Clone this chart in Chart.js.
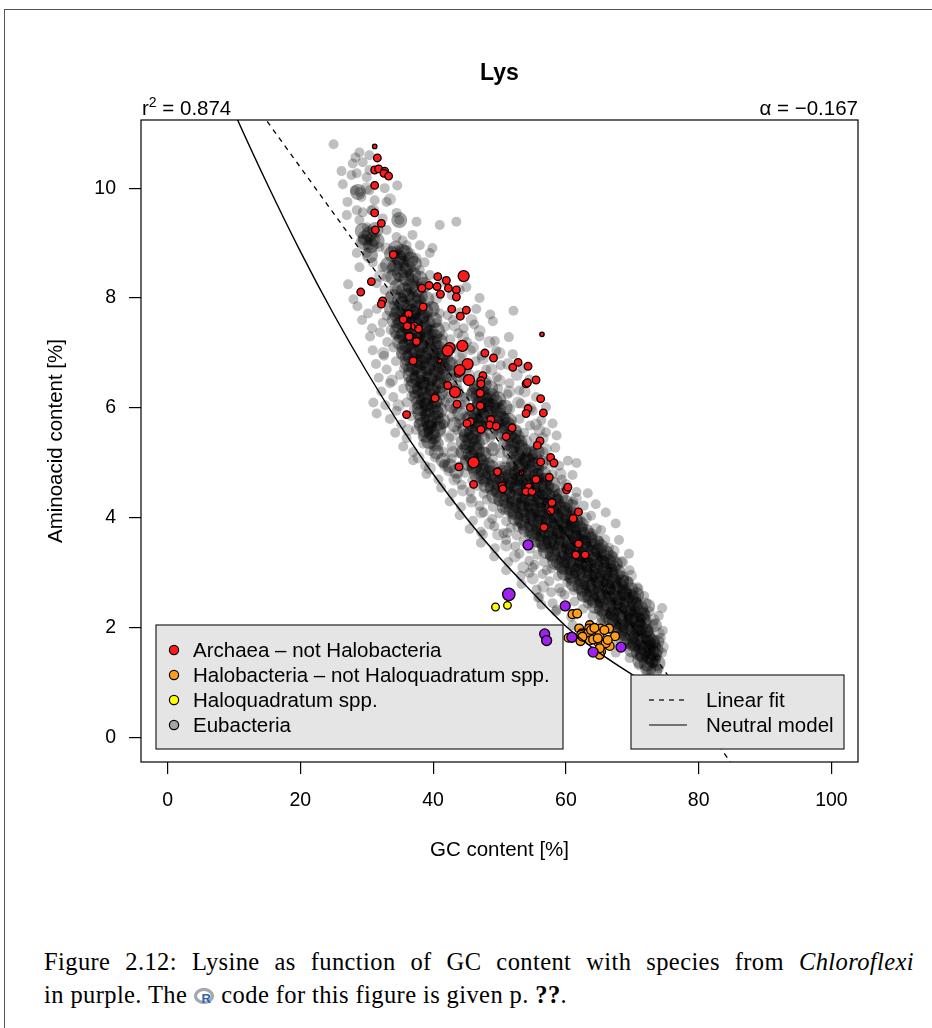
<!DOCTYPE html>
<html>
<head>
<meta charset="utf-8">
<title>Lys</title>
<script src="https://cdn.jsdelivr.net/npm/chart.js@4.4.1/dist/chart.umd.min.js"></script>
<style>
  html, body { margin: 0; padding: 0; background: #fff; }
  #page { position: relative; width: 932px; height: 1028px; overflow: hidden; }
  #frame { position: absolute; left: 4px; top: 9px; width: 960px; height: 1040px; border-left: 1px solid #555; border-top: 1px solid #555; }
  #lys { position: absolute; left: 0; top: 0; }
  .caption { position: absolute; left: 44px; width: 870px; font-family: 'Liberation Serif', 'Times New Roman', serif; font-size: 24.5px; letter-spacing: 0.4px; line-height: 28px; color: #000; white-space: nowrap; }
  #cap1 { top: 948px; text-align: justify; text-align-last: justify; }
  #cap2 { top: 981px; }
  .rlogo { vertical-align: -2px; }
</style>
</head>
<body>
<div id="page">
  <div id="frame"></div>
  <canvas id="lys" width="932" height="880"></canvas>
  <div class="caption" id="cap1">Figure 2.12: Lysine as function of GC content with species from <i>Chloroflexi</i></div>
  <div class="caption" id="cap2">in purple. The <svg class="rlogo" width="21" height="17" viewBox="0 0 21 17"><ellipse cx="10" cy="8" rx="8.5" ry="6.5" fill="none" stroke="#a3a8b0" stroke-width="3.2"/><text x="7.5" y="15" font-family="Liberation Sans, Arial, sans-serif" font-weight="bold" font-size="13" fill="#2a64b4">R</text></svg> code for this figure is given p. <b>??</b>.</div>
</div>
<script>
// axis ticks
const xTicks = [0, 20, 40, 60, 80, 100];
const yTicks = [0, 2, 4, 6, 8, 10];

// fit statistics shown above the plot
const rSquared = 0.874;
const fitSlope = -0.167;
const fitIntercept = 13.72;
const fitRange = [0, 100];

// neutral model: expected Lys content [%] for a GC content [%]
const neutralGC  = [5, 10, 15, 20, 25, 30, 35, 40, 45, 50, 55, 60, 65, 70, 75, 80, 85, 90, 95, 100];
const neutralLys = [12.80, 11.39, 10.08, 8.85, 7.71, 6.66, 5.69, 4.80, 4.00, 3.28, 2.64, 2.03, 1.55, 1.15, 0.79, 0.51, 0.28, 0.13, 0.03, 0];

// [GC %, Lys %] per genome
const eubacteriaHalo = [
  [25.0,10.80],[28.3,10.56],[28.9,10.65],[30.4,10.60],[29.4,10.47],[27.9,10.45],[26.2,10.31],[26.4,10.07],[27.7,10.24],[28.5,10.27],
  [30.4,10.33],[30.0,10.20],[28.2,9.96],[28.9,9.93],[29.2,9.84],[30.4,9.96],[31.2,9.78],[33.0,9.75],[34.6,10.05],[32.7,10.00],
  [27.1,9.75],[28.5,9.60],[27.0,9.51],[29.4,9.56],[30.7,9.60],[28.9,9.42],[30.0,9.29],[32.4,9.45],[34.5,9.55],[34.9,9.42],
  [37.5,9.39],[41.0,9.33],[43.5,9.39],[33.0,9.24],[34.5,9.11],[35.4,9.05],[36.9,9.15],[29.4,9.05],[30.4,8.96],[28.5,8.82],
  [30.0,8.82],[31.9,8.93],[34.5,8.87],[36.0,8.96],[38.0,8.96],[39.9,8.91],[39.5,8.82],[37.5,8.73],[38.7,8.65],[28.9,8.56],
  [30.9,8.65],[32.4,8.56],[33.9,8.56],[35.4,8.64],[36.4,8.45],[38.0,8.51],[39.5,8.42],[34.9,8.38],[33.0,8.38],[31.5,8.27],
  [32.7,8.15],[34.5,8.15],[36.4,8.20],[36.9,8.09],[35.4,8.00],[33.4,8.02],[38.0,8.00],[44.0,8.15],[45.0,8.20],[27.2,8.25],
  [28.0,7.98],[41.5,8.30],[42.8,8.05],[47.0,8.00],
  [28.6,7.85],[30.2,7.72],[31.5,7.80],[33.0,7.68],[34.1,7.86],[35.0,7.75],[35.8,7.66],[36.6,7.82],[37.4,7.70],[38.3,7.78],
  [39.2,7.67],[40.1,7.84],[41.0,7.72],[42.2,7.69],[44.0,7.74],[46.5,7.80],[48.6,7.70],[52.1,7.77],
  [29.3,7.60],[30.8,7.45],[32.4,7.55],[33.6,7.42],[34.5,7.60],[35.3,7.50],[36.0,7.41],[36.9,7.58],[37.7,7.47],[38.6,7.62],
  [39.4,7.44],[40.5,7.55],[41.8,7.48],[43.0,7.60],[44.6,7.45],[46.2,7.52],[49.0,7.58],
  [30.5,7.30],[32.0,7.38],[33.1,7.20],[34.3,7.33],[35.4,7.24],[36.3,7.36],[37.1,7.18],[38.0,7.30],[38.8,7.22],[39.7,7.35],
  [40.6,7.20],[41.5,7.32],[42.6,7.25],[43.8,7.36],[45.1,7.20],[47.0,7.30],[49.3,7.22],[51.4,7.29],
  [30.9,7.05],[32.6,6.95],[34.0,7.10],[35.2,6.98],[36.2,7.08],[37.0,6.93],[37.8,7.04],[38.7,6.96],[39.6,7.10],[40.4,6.94],
  [41.3,7.02],[42.3,6.92],[43.3,7.08],[44.4,6.97],[45.7,7.05],[47.3,6.95],[49.5,7.04],[52.0,6.98],
  [31.4,6.80],[33.0,6.70],[34.4,6.85],[35.6,6.72],[36.5,6.82],[37.3,6.68],[38.2,6.78],[39.0,6.70],[39.9,6.86],[40.8,6.74],
  [41.8,6.83],[42.8,6.69],[43.9,6.80],[45.1,6.72],[46.4,6.85],[48.0,6.70],[50.2,6.78],[53.5,6.72],
  [31.8,6.55],[33.5,6.45],[35.0,6.60],[36.3,6.48],[37.2,6.58],[38.1,6.44],[39.0,6.56],[39.8,6.46],[40.7,6.60],[41.6,6.50],
  [42.6,6.58],[43.6,6.43],[44.6,6.55],[45.7,6.47],[46.8,6.60],[48.1,6.50],[49.6,6.56],[51.5,6.45],[54.5,6.52],
  [32.2,6.30],[34.0,6.20],[35.5,6.35],[36.7,6.22],[37.6,6.33],[38.5,6.18],[39.4,6.30],[40.3,6.20],[41.2,6.36],[42.2,6.25],
  [43.4,6.33],[44.7,6.20],[45.8,6.30],[46.8,6.18],[47.7,6.32],[48.7,6.22],[49.8,6.35],[51.2,6.25],[53.0,6.32],[55.5,6.20],
  [31.0,6.10],[32.8,6.05],[34.5,5.95],[36.0,6.10],[37.1,5.98],[38.0,6.08],[38.9,5.93],[39.8,6.05],[40.8,5.95],[41.8,6.10],
  [43.0,5.98],[44.3,6.06],[45.6,5.94],[46.6,6.08],[47.5,5.97],[48.4,6.10],[49.4,5.95],[50.4,6.06],[51.6,5.98],[53.2,6.08],
  [55.0,5.95],[57.0,6.02],
  [31.5,5.90],[33.5,5.80],[35.2,5.70],[36.7,5.85],[37.8,5.72],[38.7,5.82],[39.6,5.68],[40.5,5.80],[41.6,5.70],[42.8,5.84],
  [43.9,5.72],[44.9,5.85],[45.9,5.70],[46.8,5.80],[47.7,5.68],[48.6,5.82],[49.6,5.70],[50.6,5.84],[51.7,5.72],[53.0,5.80],
  [54.6,5.68],[56.3,5.78],[58.0,5.72],
  [34.3,5.55],[36.0,5.45],[37.4,5.60],[38.4,5.48],[39.3,5.58],[40.2,5.44],[41.2,5.55],[42.4,5.46],[43.6,5.60],[44.6,5.48],
  [45.5,5.58],[46.4,5.44],[47.5,5.56],[48.6,5.46],[49.6,5.60],[50.6,5.48],[51.6,5.58],[52.6,5.44],[53.7,5.55],[55.2,5.46],
  [57.0,5.56],[58.6,5.50],
  [35.5,5.30],[37.0,5.20],[38.5,5.35],[39.5,5.22],[40.5,5.33],[41.6,5.20],[42.8,5.30],[43.9,5.18],[44.8,5.32],[45.7,5.22],
  [46.7,5.35],[47.8,5.20],[49.0,5.30],[50.1,5.18],[51.1,5.32],[52.1,5.22],[53.1,5.35],[54.1,5.20],[55.2,5.30],[56.6,5.20],
  [58.4,5.28],
  [37.0,5.05],[38.8,4.95],[40.3,5.10],[41.6,4.98],[42.8,5.08],[43.9,4.94],[44.8,5.06],[45.8,4.96],[46.8,5.10],[47.9,4.97],
  [49.0,5.08],[50.1,4.95],[51.1,5.06],[52.1,4.93],[53.0,5.08],[54.0,4.97],[55.0,5.10],[56.0,4.96],[57.3,5.05],[59.0,4.95],
  [60.3,5.04],[61.6,5.00],
  [39.0,4.80],[40.8,4.70],[42.3,4.85],[43.6,4.72],[44.8,4.82],[45.9,4.68],[46.8,4.80],[47.7,4.70],[48.6,4.84],[49.5,4.72],
  [50.4,4.82],[51.3,4.68],[52.2,4.80],[53.1,4.70],[54.0,4.84],[54.9,4.72],[55.8,4.82],[56.8,4.68],[58.0,4.80],[59.4,4.70],
  [61.0,4.78],
  [41.2,4.55],[42.9,4.45],[44.3,4.60],[45.6,4.48],[46.7,4.58],[47.6,4.44],[48.5,4.56],[49.4,4.46],[50.3,4.60],[51.2,4.48],
  [52.1,4.58],[53.0,4.44],[53.9,4.56],[54.8,4.46],[55.7,4.60],[56.6,4.48],[57.6,4.58],[58.7,4.44],[60.0,4.55],[61.6,4.47],
  [63.3,4.45],
  [42.5,4.30],[44.2,4.20],[45.7,4.35],[47.0,4.22],[48.1,4.33],[49.0,4.20],[49.9,4.30],[50.8,4.18],[51.7,4.32],[52.6,4.22],
  [53.5,4.35],[54.4,4.20],[55.3,4.30],[56.2,4.18],[57.1,4.32],[58.0,4.22],[58.9,4.35],[59.9,4.20],[61.1,4.30],[62.7,4.22],
  [64.5,4.25],
  [44.0,4.05],[46.0,3.95],[47.6,4.10],[48.9,3.98],[50.0,4.08],[51.0,3.94],[51.9,4.06],[52.8,3.96],[53.7,4.10],[54.6,3.97],
  [55.5,4.08],[56.4,3.95],[57.3,4.06],[58.2,3.93],[59.1,4.08],[60.0,3.97],[61.0,4.10],[62.2,3.96],[63.8,4.04],[66.0,4.10],
  [45.5,3.80],[47.5,3.70],[49.2,3.85],[50.6,3.72],[51.7,3.82],[52.6,3.68],[53.5,3.80],[54.4,3.70],[55.3,3.84],[56.2,3.72],
  [57.1,3.82],[58.0,3.68],[58.9,3.80],[59.8,3.70],[60.7,3.84],[61.6,3.72],[62.6,3.82],[63.8,3.68],[65.3,3.78],[67.5,3.90],
  [47.2,3.55],[49.3,3.45],[51.0,3.60],[52.4,3.48],[53.6,3.58],[54.6,3.44],[55.5,3.56],[56.4,3.46],[57.3,3.60],[58.2,3.48],
  [59.1,3.58],[60.0,3.44],[60.9,3.56],[61.8,3.46],[62.7,3.60],[63.7,3.48],[64.9,3.58],[66.5,3.46],[68.0,3.60],
  [49.2,3.30],[51.3,3.20],[53.0,3.35],[54.5,3.22],[55.7,3.33],[56.7,3.20],[57.6,3.30],[58.5,3.18],[59.4,3.32],[60.3,3.22],
  [61.2,3.35],[62.1,3.20],[63.0,3.30],[63.9,3.18],[64.8,3.32],[65.8,3.22],[67.0,3.30],[68.4,3.20],[69.5,3.35],
  [51.0,3.05],[53.2,2.95],[55.0,3.10],[56.5,2.98],[57.8,3.08],[58.8,2.94],[59.7,3.06],[60.6,2.96],[61.5,3.10],[62.4,2.97],
  [63.3,3.08],[64.2,2.95],[65.1,3.06],[66.0,2.93],[67.0,3.08],[68.2,2.97],[69.6,3.05],
  [53.3,2.80],[55.6,2.70],[57.5,2.85],[59.0,2.72],[60.2,2.82],[61.2,2.68],[62.1,2.80],[63.0,2.70],[63.9,2.84],[64.8,2.72],
  [65.7,2.82],[66.6,2.68],[67.5,2.80],[68.4,2.70],[69.5,2.84],[70.8,2.74],
  [55.8,2.55],[58.0,2.45],[59.8,2.60],[61.3,2.48],[62.4,2.58],[63.3,2.44],[64.2,2.56],[65.1,2.46],[66.0,2.60],[66.9,2.48],
  [67.8,2.58],[68.7,2.44],[69.6,2.56],[70.6,2.46],[71.8,2.58],[74.5,2.36],
  [58.5,2.30],[60.8,2.20],[62.6,2.35],[64.0,2.22],[65.0,2.33],[65.9,2.18],[66.8,2.30],[67.7,2.20],[68.6,2.34],[69.5,2.22],
  [70.4,2.32],[71.4,2.18],[72.6,2.30],[74.0,2.22],
  [61.0,2.05],[63.5,1.95],[65.3,2.10],[66.6,1.98],[67.6,2.08],[68.5,1.94],[69.4,2.06],[70.3,1.96],[71.2,2.10],[72.1,1.97],
  [73.2,2.06],[74.6,1.95],
  [64.5,1.80],[66.8,1.70],[68.4,1.85],[69.5,1.72],[70.5,1.82],[71.4,1.68],[72.3,1.80],[73.2,1.70],[74.3,1.82],
  [67.5,1.55],[69.6,1.45],[70.9,1.60],[71.9,1.48],[72.8,1.58],[73.6,1.45],[74.5,1.55],
  [71.0,1.32],[72.3,1.22],[73.2,1.35],[74.0,1.26],
  [47.2,3.75],[51.2,3.73],[52.7,3.84],[55.3,3.15],[54.5,3.00],[57.1,3.05],[56.0,2.56],[57.8,2.65],[59.3,2.65],[56.3,2.42],
  [58.6,2.33],[63.1,2.55]
];

// genomes in the moderately dense belt around the ridge
const eubacteriaMid = [
  [44.5,7.30],[46.0,7.10],[47.5,6.90],[48.8,6.70],[50.0,6.50],[51.5,6.30],[52.8,6.10],[44.0,6.90],[45.4,6.60],[46.8,6.40],
  [48.0,6.20],[49.5,6.00],[50.8,5.80],[52.5,5.60],[54.0,5.40],[43.2,7.50],[45.8,7.60],[47.0,7.40],[48.5,7.20],[50.0,7.00],
  [51.3,6.80],[52.6,6.60],[53.8,6.30],[54.6,6.00],[55.5,5.70],[56.5,5.45],[42.5,6.20],[43.5,6.00],[44.2,5.80],[42.8,5.50],
  [43.0,5.20],[41.8,4.95],[43.2,4.70],[44.5,4.50],[45.8,4.30],[47.2,4.10],[48.5,3.90],[49.8,3.70],[51.0,3.50],[52.3,3.30],
  [53.6,3.10],[55.0,2.90],[56.6,2.75],[60.0,4.60],[61.5,4.35],[63.0,4.00],[64.5,3.80],[65.8,3.60],[67.2,3.40],[68.5,3.20],
  [69.8,2.95],[70.8,2.70],[72.0,2.45],[73.2,2.15],[74.0,1.90],[74.6,1.65],[58.0,5.00],[59.2,4.80],[57.0,5.25],[56.0,5.60],
  [33.0,8.90],[32.0,8.40],[31.0,9.60],[30.0,10.00],[33.5,9.80],[36.5,8.80],[38.5,8.20],[40.5,8.00],[32.5,7.00],[33.8,6.50],
  [34.8,6.05],[36.2,5.60],[37.8,5.10],[39.5,4.90]
];

const eubacteriaCore = [
  [28.7,9.93],
  [29.4,9.22],[30.4,9.16],[31.3,9.24],[34.9,9.42],
  [29.6,9.02],[30.6,8.96],[31.5,9.04],[34.4,8.90],[35.4,8.84],
  [30.5,8.78],[33.8,8.80],[34.8,8.74],[35.8,8.82],[36.6,8.70],
  [33.2,8.60],[34.2,8.55],[35.2,8.63],[36.2,8.56],[37.1,8.62],
  [34.0,8.38],[35.0,8.44],[36.0,8.36],[37.0,8.42],[38.0,8.35],
  [34.6,8.20],[35.6,8.14],[36.6,8.22],[37.6,8.16],[38.6,8.24],
  [34.0,8.02],[35.0,7.96],[36.0,8.04],[37.0,7.97],[38.0,8.03],[39.0,7.98],
  [33.8,7.80],[34.8,7.76],[35.8,7.83],[36.8,7.75],[37.8,7.82],[38.8,7.77],[39.8,7.80],
  [34.2,7.60],[35.2,7.55],[36.2,7.63],[37.2,7.56],[38.2,7.62],[39.2,7.54],[40.2,7.60],
  [34.6,7.40],[35.6,7.35],[36.6,7.42],[37.6,7.36],[38.6,7.43],[39.6,7.37],[40.6,7.41],
  [35.0,7.20],[36.0,7.15],[37.0,7.22],[38.0,7.16],[39.0,7.23],[40.0,7.17],[41.0,7.21],
  [35.6,7.00],[36.6,6.95],[37.6,7.03],[38.6,6.96],[39.6,7.02],[40.6,6.95],[41.6,7.01],
  [36.2,6.80],[37.2,6.75],[38.2,6.83],[39.2,6.76],[40.2,6.82],[41.2,6.75],[42.2,6.81],
  [36.6,6.60],[37.6,6.55],[38.6,6.62],[39.6,6.56],[40.6,6.63],[41.6,6.57],
  [37.0,6.40],[38.0,6.35],[39.0,6.42],[40.0,6.36],[41.0,6.41],[46.6,6.38],[47.6,6.43],[48.6,6.36],
  [37.6,6.20],[38.6,6.15],[39.6,6.22],[40.6,6.16],[46.8,6.20],[47.8,6.15],[48.8,6.22],[49.8,6.16],
  [38.0,6.00],[39.0,5.95],[40.0,6.02],[41.0,5.96],[46.8,6.00],[47.8,5.95],[48.8,6.03],[49.8,5.96],[50.8,6.01],
  [38.4,5.80],[39.4,5.75],[40.4,5.82],[41.4,5.76],[45.6,5.80],[46.6,5.76],[47.6,5.83],[49.4,5.75],[50.4,5.81],[51.4,5.77],
  [38.8,5.60],[39.8,5.55],[40.8,5.62],[44.8,5.60],[45.8,5.55],[46.8,5.62],[50.2,5.57],[51.2,5.62],[52.2,5.56],
  [39.4,5.40],[40.4,5.35],[44.6,5.38],[45.6,5.42],[46.6,5.36],[51.0,5.36],[52.0,5.42],[53.0,5.37],
  [44.6,5.20],[45.6,5.15],[46.6,5.22],[47.6,5.16],[51.6,5.21],[52.6,5.15],[53.6,5.22],[54.6,5.16],[55.6,5.20],
  [45.2,5.00],[46.2,4.95],[47.2,5.02],[48.2,4.96],[52.2,5.01],[53.2,4.95],[54.2,5.03],[55.2,4.96],[56.2,5.00],
  [46.6,4.80],[47.6,4.75],[48.6,4.82],[49.6,4.76],[50.6,4.82],[51.6,4.75],[52.6,4.81],[53.6,4.77],[54.6,4.83],[55.6,4.76],[56.6,4.80],
  [48.0,4.60],[49.0,4.55],[50.0,4.62],[51.0,4.56],[52.0,4.61],[53.0,4.55],[54.0,4.63],[55.0,4.56],[56.0,4.60],[57.0,4.55],[58.0,4.61],
  [49.2,4.40],[50.2,4.35],[51.2,4.42],[52.2,4.36],[53.2,4.41],[54.2,4.35],[55.2,4.43],[56.2,4.36],[57.2,4.41],[58.2,4.35],[59.2,4.40],
  [50.8,4.20],[51.8,4.15],[52.8,4.22],[53.8,4.16],[54.8,4.21],[55.8,4.15],[56.8,4.23],[57.8,4.16],[58.8,4.21],[59.8,4.15],[60.8,4.20],
  [52.4,4.00],[53.4,3.95],[54.4,4.02],[55.4,3.96],[56.4,4.01],[57.4,3.95],[58.4,4.03],[59.4,3.96],[60.4,4.01],[61.4,3.95],
  [54.0,3.80],[55.0,3.75],[56.0,3.82],[57.0,3.76],[58.0,3.81],[59.0,3.75],[60.0,3.83],[61.0,3.76],[62.0,3.81],[63.0,3.75],
  [55.6,3.60],[56.6,3.55],[57.6,3.62],[58.6,3.56],[59.6,3.61],[60.6,3.55],[61.6,3.63],[62.6,3.56],[63.6,3.61],[64.6,3.56],
  [57.0,3.40],[58.0,3.35],[59.0,3.42],[60.0,3.36],[61.0,3.41],[62.0,3.35],[63.0,3.43],[64.0,3.36],[65.0,3.41],[66.0,3.36],
  [58.4,3.20],[59.4,3.15],[60.4,3.22],[61.4,3.16],[62.4,3.21],[63.4,3.15],[64.4,3.23],[65.4,3.16],[66.4,3.21],[67.4,3.16],
  [59.8,3.00],[60.8,2.95],[61.8,3.02],[62.8,2.96],[63.8,3.01],[64.8,2.95],[65.8,3.03],[66.8,2.96],[67.8,3.01],
  [61.2,2.80],[62.2,2.75],[63.2,2.82],[64.2,2.76],[65.2,2.81],[66.2,2.75],[67.2,2.83],[68.2,2.76],[69.0,2.81],
  [62.8,2.60],[63.8,2.55],[64.8,2.62],[65.8,2.56],[66.8,2.61],[67.8,2.55],[68.8,2.63],[69.8,2.56],[70.6,2.60],
  [64.4,2.40],[65.4,2.35],[66.4,2.42],[67.4,2.36],[68.4,2.41],[69.4,2.35],[70.4,2.43],[71.2,2.36],
  [65.8,2.20],[66.8,2.15],[67.8,2.22],[68.8,2.16],[69.8,2.21],[70.8,2.15],[71.6,2.22],
  [67.2,2.00],[68.2,1.95],[69.2,2.02],[70.2,1.96],[71.2,2.01],[72.0,1.95],
  [68.6,1.80],[69.6,1.75],[70.6,1.82],[71.6,1.76],[72.4,1.81],[73.0,1.74],
  [70.0,1.60],[71.0,1.55],[72.0,1.62],[72.9,1.56],[73.5,1.60],
  [71.2,1.40],[72.2,1.35],[73.1,1.42],[73.8,1.36],
  [72.4,1.25],[73.3,1.21]
];

// second pass over the darkest stretches of the ridge
const eubacteriaDense = [
  [49.8,4.50],[51.3,4.47],[52.5,4.53],[53.9,4.49],[55.1,4.52],[56.8,4.46],[58.0,4.50],
  [51.0,4.30],[52.1,4.27],[53.6,4.33],[54.7,4.28],[55.9,4.31],[57.4,4.26],[58.6,4.30],[60.0,4.28],
  [52.3,4.10],[53.5,4.07],[54.9,4.13],[56.0,4.08],[57.1,4.12],[58.5,4.06],[59.7,4.10],[61.0,4.08],
  [53.6,3.90],[54.8,3.87],[56.1,3.93],[57.4,3.88],[58.5,3.92],[59.8,3.86],[61.0,3.90],[62.3,3.88],
  [55.2,3.70],[56.5,3.67],[57.7,3.73],[58.9,3.68],[60.1,3.72],[61.3,3.66],[62.6,3.70],[63.7,3.68],
  [56.8,3.50],[58.0,3.47],[59.2,3.53],[60.5,3.48],[61.7,3.52],[62.9,3.46],[64.1,3.50],[65.3,3.48],
  [58.2,3.30],[59.5,3.27],[60.7,3.33],[61.9,3.28],[63.1,3.32],[64.4,3.26],[65.6,3.30],[66.8,3.28],
  [59.6,3.10],[60.9,3.07],[62.1,3.13],[63.4,3.08],[64.6,3.12],[65.9,3.06],[67.1,3.10],
  [61.0,2.90],[62.3,2.87],[63.6,2.93],[64.8,2.88],[66.0,2.92],[67.3,2.86],[68.4,2.90],
  [62.6,2.70],[63.9,2.67],[65.1,2.73],[66.4,2.68],[67.6,2.72],[68.8,2.66],[69.8,2.70],
  [64.2,2.50],[65.4,2.47],[66.7,2.53],[67.9,2.48],[69.1,2.52],[70.3,2.46],
  [65.8,2.30],[67.0,2.27],[68.2,2.33],[69.4,2.28],[70.6,2.32],[71.5,2.26],
  [67.3,2.10],[68.5,2.07],[69.7,2.13],[70.8,2.08],[71.8,2.12],
  [68.8,1.90],[70.0,1.87],[71.1,1.93],[72.2,1.88],
  [70.2,1.70],[71.3,1.67],[72.4,1.73],[73.2,1.68],
  [71.5,1.50],[72.5,1.47],[73.4,1.52],
  [45.8,5.10],[47.0,5.07],[52.8,5.10],[54.1,5.07],[55.3,5.12],[46.2,4.90],[47.5,4.87],[48.8,4.92],[51.8,4.90],[53.0,4.87],
  [54.3,4.91],[55.6,4.88],[47.8,4.70],[49.1,4.67],[50.4,4.72],[51.7,4.68],[53.0,4.71],[54.3,4.66],[55.6,4.70],[56.8,4.68],
  [45.1,5.30],[46.3,5.27],[52.0,5.30],[53.3,5.28],
  [38.2,5.70],[39.5,5.67],[40.8,5.72],[45.9,5.70],[47.1,5.67],[48.3,5.72],[50.0,5.68],[51.2,5.71],[38.0,5.90],[39.2,5.87],
  [40.5,5.92],[46.2,5.90],[47.4,5.87],[48.6,5.92],[49.9,5.88],[37.8,6.10],[39.0,6.07],[40.3,6.12],[47.0,6.10],[48.2,6.07],
  [49.4,6.12],[37.4,6.30],[38.6,6.27],[39.9,6.32],[41.1,6.28],[46.3,6.30],[47.5,6.27],[38.9,5.50],[40.1,5.47],[45.0,5.50],
  [46.2,5.47],[51.5,5.50],[52.7,5.47],
  [42.5,6.50],[43.5,6.30],[42.8,6.05],[44.0,5.90],[43.2,5.70],[42.6,6.80],[43.8,6.60],[44.5,6.15],
  [40.5,5.20],[41.5,5.05],[42.5,4.95],[43.5,4.85],
  [37.0,6.50],[38.3,6.47],[39.6,6.52],[40.9,6.48],[36.6,6.70],[37.9,6.67],[39.2,6.72],[40.5,6.68],[41.7,6.72],[36.1,6.90],
  [37.4,6.87],[38.7,6.92],[40.0,6.88],[41.2,6.91],[35.6,7.10],[36.9,7.07],[38.2,7.12],[39.5,7.08],[40.7,7.10],[35.2,7.30],
  [36.5,7.27],[37.8,7.32],[39.1,7.28],[40.3,7.30],[34.8,7.50],[36.1,7.47],[37.4,7.52],[38.7,7.48],[34.5,7.70],[35.8,7.67],
  [37.1,7.72],[38.4,7.68],[35.3,7.90],[36.6,7.87],[37.9,7.92],
  [29.8,9.10],[30.9,9.07],[34.9,8.70],[35.8,8.50],[36.8,8.30]
];

// clumps where the ridge is blackest
const eubacteriaDeep = [
  [53.5,4.25],[55.0,4.05],[56.3,4.30],[57.2,3.98],[58.3,4.18],[59.5,3.90],[56.0,3.70],[57.5,3.55],[59.0,3.75],[60.2,3.45],
  [61.5,3.65],[62.5,3.30],[60.0,3.20],[61.6,3.05],[63.2,3.15],[64.3,2.95],[65.5,3.20],[66.3,2.85],[63.5,2.75],[65.0,2.55],
  [66.5,2.70],[67.6,2.45],[68.8,2.62],[69.6,2.30],[67.0,2.25],[68.3,2.05],[69.8,2.15],[70.8,1.95],[71.6,2.18],[70.4,1.70],
  [71.5,1.50],[72.6,1.65],[72.2,1.95],[73.0,1.42],[54.2,4.60],[55.8,4.45],[57.0,4.70],[52.6,4.70],[50.8,4.90],[53.8,5.05],
  [49.0,5.25],[47.5,5.45],[48.8,5.55],[46.5,5.85],[47.9,6.05],[46.0,6.25],[39.5,5.65],[39.0,6.05],[38.5,6.45],[38.0,6.85],
  [37.5,7.25],[37.0,7.65],[36.3,8.05],[61.0,3.85],[62.8,3.55],[64.8,3.40],[66.8,3.05],[68.5,2.85],[70.3,2.55],[72.4,2.40],
  [73.4,2.05],[73.8,1.75]
];

const archaea = [
  [31.6,10.55],[31.2,10.33],[31.8,10.35],[32.7,10.31],[32.6,10.27],[33.3,10.22],[31.2,10.05],[31.2,9.55],[32.2,9.36],[31.3,9.24],
  [34.0,8.79],[40.7,8.39],[42.0,8.32],[30.7,8.30],[29.1,8.11],[39.4,8.23],[40.6,8.21],[42.3,8.18],[43.5,8.15],[38.3,8.18],
  [41.1,8.07],[43.5,8.02],[32.4,7.95],[32.2,7.89],[38.5,7.84],[42.8,7.80],[45.0,7.78],[44.1,7.67],[36.3,7.71],[35.5,7.61],
  [37.2,7.49],[37.8,7.44],[36.1,7.49],[36.4,7.30],[37.5,7.21],[47.8,7.00],[49.1,6.91],[37.0,6.86],[52.8,6.83],[52.0,6.74],
  [54.3,6.76],[43.8,6.63],[47.5,6.59],[47.2,6.50],[47.2,6.44],[54.0,6.44],[54.2,6.46],[55.5,6.51],[42.2,6.41],[47.1,6.27],
  [56.2,6.17],[40.3,6.18],[43.6,6.07],[47.1,6.04],[45.6,6.01],[54.3,5.99],[54.0,5.90],[56.6,5.91],[36.0,5.88],[48.7,5.79],
  [45.6,5.75],[45.1,5.72],[48.5,5.69],[49.5,5.67],[47.2,5.61],[51.9,5.64],[51.0,5.48],[56.1,5.40],[55.7,5.32],[43.9,4.93],
  [49.7,4.84],[56.2,5.02],[55.5,4.70],[46.1,4.61],[50.4,4.58],[54.4,4.56],[57.7,5.10],[58.2,5.00],[57.5,4.74],[50.5,4.53],
  [54.0,4.48],[54.9,4.48],[60.1,4.51],[60.3,4.56],[57.9,4.28],[57.7,4.13],[61.9,4.11],[61.1,3.99],[56.7,3.83],[61.9,3.53],
  [61.5,3.33],[62.9,3.33]
];
const archaeaLarge = [
  [44.6,8.40],[42.5,7.09],[42.2,7.04],[44.4,7.13],[45.2,6.80],[44.0,6.69],[45.4,6.51],[43.3,6.29],[46.1,5.01]
];
const archaeaSmall = [
  [31.2,10.76],[56.4,7.34],[41.0,6.86],[53.3,4.82]
];

const halobacteria = [
  [61.0,2.25],[61.7,2.26],[62.0,1.99],[63.6,2.05],[63.5,1.99],[65.2,1.99],[66.5,1.99],[62.4,1.90],[63.3,1.90],[63.8,1.96],
  [65.1,1.89],[67.4,1.85],[62.2,1.76],[63.6,1.77],[64.8,1.75],[65.9,1.71],[66.6,1.67],[65.3,1.57],[65.1,1.51],[62.3,1.87],
  [64.1,1.79],[65.3,1.73],[66.0,1.72],[66.3,1.78],[62.5,1.84],[64.8,1.81],[65.1,1.63],[60.4,1.82],[64.3,2.00],[65.8,1.96]
];

const haloquadratum = [[49.4,2.38],[51.2,2.41]];

const chloroflexi = [[54.3,3.51],[59.9,2.40],[56.8,1.89],[57.1,1.77],[60.9,1.83],[68.3,1.65],[64.1,1.56]];
const chloroflexiLarge = [[51.4,2.61]];

const groupNames = ['Archaea \u2013 not Halobacteria', 'Halobacteria \u2013 not Haloquadratum spp.', 'Haloquadratum spp.', 'Eubacteria'];
const groupColors = ['#ff1a1a', '#ff9c1a', '#ffff00', '#a6a6a6'];

const FONT = '"Liberation Sans", Arial, sans-serif';

function pts(list) {
  return list.map(([x, y]) => ({ x, y }));
}

function markers(label, list, fill, radius, order, border) {
  return {
    label,
    data: pts(list),
    order,
    pointRadius: radius,
    pointBackgroundColor: fill,
    pointBorderColor: border ? '#000' : 'rgba(0,0,0,0)',
    pointBorderWidth: border ? 1.3 : 0,
    showLine: false
  };
}

function drawLegends(chart) {
  const { ctx, chartArea: a } = chart;
  ctx.save();
  ctx.lineWidth = 1.2;
  ctx.strokeStyle = '#222';
  ctx.fillStyle = '#e5e5e5';

  // groups legend, bottom left
  const l1 = { x: a.left + 15, y: a.bottom - 137, w: 407, h: 124 };
  ctx.fillRect(l1.x, l1.y, l1.w, l1.h);
  ctx.strokeRect(l1.x, l1.y, l1.w, l1.h);
  ctx.font = '20.5px ' + FONT;
  ctx.textBaseline = 'middle';
  groupNames.forEach((name, i) => {
    const y = l1.y + 25 + i * 25;
    ctx.beginPath();
    ctx.arc(l1.x + 18, y, 4.6, 0, Math.PI * 2);
    ctx.fillStyle = groupColors[i];
    ctx.fill();
    ctx.strokeStyle = '#000';
    ctx.stroke();
    ctx.fillStyle = '#000';
    ctx.fillText(name, l1.x + 37, y + 1);
  });

  // lines legend, bottom right
  const l2 = { x: a.right - 227, y: a.bottom - 87, w: 213, h: 74 };
  ctx.fillStyle = '#e5e5e5';
  ctx.strokeStyle = '#222';
  ctx.fillRect(l2.x, l2.y, l2.w, l2.h);
  ctx.strokeRect(l2.x, l2.y, l2.w, l2.h);
  ['Linear fit', 'Neutral model'].forEach((name, i) => {
    const y = l2.y + 25 + i * 25;
    ctx.beginPath();
    ctx.setLineDash(i === 0 ? [5, 5] : []);
    ctx.moveTo(l2.x + 18, y);
    ctx.lineTo(l2.x + 56, y);
    ctx.strokeStyle = '#000';
    ctx.stroke();
    ctx.setLineDash([]);
    ctx.fillStyle = '#000';
    ctx.fillText(name, l2.x + 75, y + 1);
  });
  ctx.restore();
}

const plotFrame = {
  id: 'plotFrame',
  beforeDatasetDraw(chart, args) {
    if (chart.data.datasets[args.index].label === 'Chloroflexi') drawLegends(chart);
  },
  afterDraw(chart) {
    const { ctx, chartArea: a } = chart;
    ctx.save();
    ctx.strokeStyle = '#000';
    ctx.lineWidth = 1.2;
    ctx.strokeRect(a.left, a.top, a.right - a.left, a.bottom - a.top);

    ctx.fillStyle = '#000';
    ctx.textBaseline = 'alphabetic';
    ctx.textAlign = 'center';
    ctx.font = 'bold 23px ' + FONT;
    ctx.fillText('Lys', (a.left + a.right) / 2, 80);

    // r^2 on the left, slope on the right
    ctx.textAlign = 'left';
    ctx.font = '20.5px ' + FONT;
    let x = a.left + 1;
    ctx.fillText('r', x, 115);
    x += ctx.measureText('r').width;
    ctx.font = '14px ' + FONT;
    ctx.fillText('2', x, 107);
    x += ctx.measureText('2').width;
    ctx.font = '20.5px ' + FONT;
    ctx.fillText(' = ' + rSquared.toFixed(3), x, 115);

    ctx.textAlign = 'right';
    ctx.fillText('\u03b1 = \u2212' + Math.abs(fitSlope).toFixed(3), a.right, 115);
    ctx.restore();
  }
};

const tickFont = { family: FONT, size: 19.5 };
const titleFont = { family: FONT, size: 20.5 };

new Chart(document.getElementById('lys'), {
  type: 'scatter',
  data: {
    datasets: [
      markers('Eubacteria', eubacteriaHalo, 'rgba(0,0,0,0.25)', 5, 13, false),
      markers('Eubacteria belt', eubacteriaMid, 'rgba(0,0,0,0.22)', 6, 12, false),
      markers('Eubacteria core', eubacteriaCore, 'rgba(0,0,0,0.36)', 8, 11, false),
      markers('Eubacteria dense', eubacteriaDense, 'rgba(0,0,0,0.33)', 7.5, 10, false),
      markers('Eubacteria deep', eubacteriaDeep, 'rgba(0,0,0,0.32)', 7, 9, false),
      markers('Archaea', archaea, groupColors[0], 3.8, 7, true),
      markers('Archaea large', archaeaLarge, groupColors[0], 5.5, 6, true),
      markers('Archaea small', archaeaSmall, groupColors[0], 2.2, 5, true),
      markers('Halobacteria', halobacteria, groupColors[1], 4.4, 4, true),
      markers('Haloquadratum', haloquadratum, groupColors[2], 3.8, 3, true),
      {
        label: 'Linear fit',
        data: fitRange.map(x => ({ x, y: fitIntercept + fitSlope * x })),
        order: 2,
        showLine: true,
        pointRadius: 0,
        borderColor: '#000',
        borderWidth: 1.3,
        borderDash: [5, 5]
      },
      {
        label: 'Neutral model',
        data: neutralGC.map((x, i) => ({ x, y: neutralLys[i] })),
        order: 2,
        showLine: true,
        pointRadius: 0,
        borderColor: '#000',
        borderWidth: 1.4,
        cubicInterpolationMode: 'monotone'
      },
      markers('Chloroflexi', chloroflexi, '#a020f0', 5, 1, true),
      markers('Chloroflexi large', chloroflexiLarge, '#a020f0', 6.2, 0, true)
    ]
  },
  options: {
    responsive: false,
    animation: false,
    events: [],
    layout: { padding: { top: 120, right: 74, left: 0, bottom: 0 } },
    plugins: { legend: { display: false }, tooltip: { enabled: false } },
    scales: {
      x: {
        type: 'linear',
        min: -4,
        max: 104,
        afterBuildTicks: axis => { axis.ticks = xTicks.map(v => ({ value: v })); },
        afterFit: axis => { axis.height = 118; },
        grid: { drawOnChartArea: false, drawTicks: true, tickLength: 12, color: '#000', lineWidth: 1.2 },
        border: { display: false },
        ticks: { color: '#000', font: tickFont, padding: 15, maxRotation: 0 },
        title: { display: true, text: 'GC content [%]', color: '#000', font: titleFont, padding: { top: 0, bottom: 17 } }
      },
      y: {
        type: 'linear',
        min: -0.44,
        max: 11.24,
        afterBuildTicks: axis => { axis.ticks = yTicks.map(v => ({ value: v })); },
        afterFit: axis => { axis.width = 141; },
        grid: { drawOnChartArea: false, drawTicks: true, tickLength: 12, color: '#000', lineWidth: 1.2 },
        border: { display: false },
        ticks: { color: '#000', font: tickFont, padding: 13 },
        title: { display: true, text: 'Aminoacid content [%]', color: '#000', font: titleFont, padding: { top: 44, bottom: 0 } }
      }
    }
  },
  plugins: [plotFrame]
});
</script>
</body>
</html>
